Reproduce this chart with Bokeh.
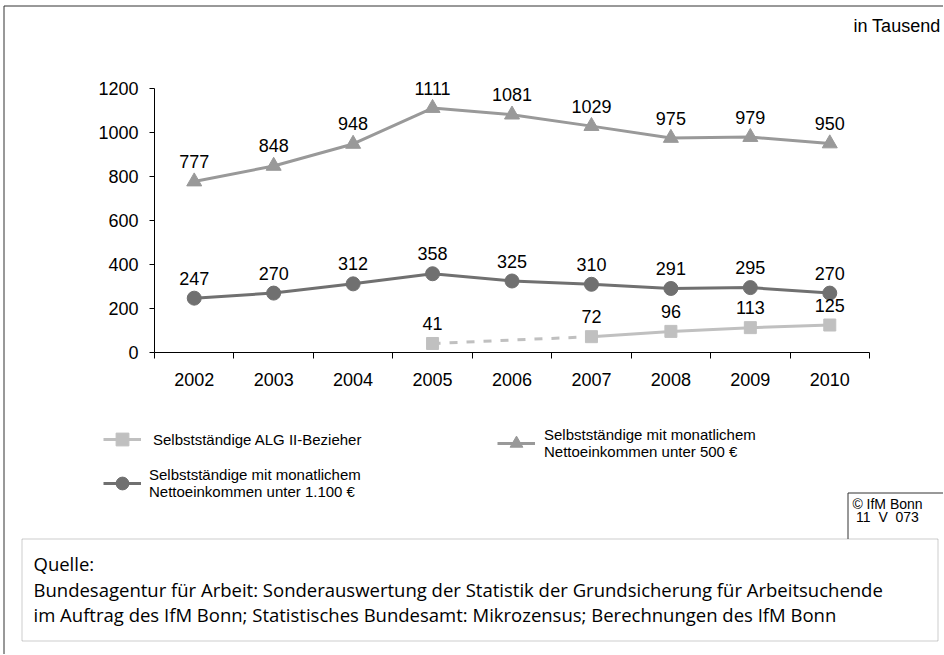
from bokeh.plotting import figure
from bokeh.models import (Range1d, FixedTicker, LinearAxis, Legend, LegendItem,
                          Label, LabelSet, BoxAnnotation, ColumnDataSource)
from bokeh.core.properties import value
from bokeh.embed import file_html
from bokeh.resources import INLINE

# ---------------- data ----------------
years = ["2002", "2003", "2004", "2005", "2006", "2007", "2008", "2009", "2010"]
under500 = [777, 848, 948, 1111, 1081, 1029, 975, 979, 950]
under1100 = [247, 270, 312, 358, 325, 310, 291, 295, 270]
alg_years = ["2005", "2007", "2008", "2009", "2010"]
alg_values = [41, 72, 96, 113, 125]
y_ticks = [0, 200, 400, 600, 800, 1000, 1200]

name_alg = "Selbstständige ALG II-Bezieher"
name_500 = "Selbstständige mit monatlichem\nNettoeinkommen unter 500 €"
name_1100 = "Selbstständige mit monatlichem\nNettoeinkommen unter 1.100 €"
unit_text = "in Tausend"
copyright_lines = ["© IfM Bonn", "11\u00a0 V\u00a0 073"]
source_lines = [
    "Quelle:",
    "Bundesagentur für Arbeit: Sonderauswertung der Statistik der Grundsicherung für Arbeitsuchende",
    "im Auftrag des IfM Bonn; Statistisches Bundesamt: Mikrozensus; Berechnungen des IfM Bonn",
]

# ---------------- styles / layout ----------------
C500 = "#999999"
C1100 = "#707070"
CALG = "#c0c0c0"
FONT = "Liberation Sans"
SRC_FONT = "Open Sans"

W, H = 943, 654                  # canvas size (canvas origin = picture origin)
AX_LEFT, AX_RIGHT = 154, 869     # px of the category axis ends
AX_TOP, AX_BOTTOM = 88, 352      # px of 1200 and 0
NCAT = len(years)
YMAX = y_ticks[-1]

def px_x(px):
    return (px - AX_LEFT) / ((AX_RIGHT - AX_LEFT) / NCAT)

def px_y(py):
    return (AX_BOTTOM - py) / ((AX_BOTTOM - AX_TOP) / YMAX)

xpos = {y: i + 0.5 for i, y in enumerate(years)}

p = figure(width=W, height=H,
           x_range=Range1d(px_x(0), px_x(W)),
           y_range=Range1d(px_y(H), px_y(0)),
           x_axis_type=None, y_axis_type=None,
           output_backend="svg", toolbar_location=None,
           min_border_left=0, min_border_right=0,
           min_border_top=0, min_border_bottom=0)
p.outline_line_color = None
p.background_fill_color = "white"
p.border_fill_color = "white"

# x axis: labels at category centres, ticks at category boundaries
xaxis = LinearAxis(
    fixed_location=0, bounds=(0, NCAT),
    ticker=FixedTicker(ticks=[xpos[y] for y in years],
                       minor_ticks=list(range(NCAT + 1))),
    major_label_overrides={xpos[y]: y for y in years},
    major_tick_in=0, major_tick_out=0,
    minor_tick_in=0, minor_tick_out=6,
    minor_tick_line_color="black",
    axis_line_color="black",
    major_label_standoff=14,
    major_label_text_font=FONT, major_label_text_font_size="18px",
    major_label_text_color="black",
)
p.add_layout(xaxis, "below")

yaxis = LinearAxis(
    fixed_location=0, bounds=(0, YMAX),
    ticker=FixedTicker(ticks=y_ticks),
    major_tick_in=0, major_tick_out=5,
    minor_tick_line_color=None,
    major_tick_line_color="black",
    axis_line_color="black",
    major_label_standoff=11,
    major_label_text_font=FONT, major_label_text_font_size="18px",
    major_label_text_color="black",
)
p.add_layout(yaxis, "left")

# ---------------- frame lines (open on the right / bottom like the original) ----------------
frame_src = ColumnDataSource(dict(
    x0=[px_x(3.5), px_x(3.5), px_x(847.5), px_x(847.5)],
    y0=[px_y(5.5), px_y(5.5), px_y(492.5), px_y(492.5)],
    x1=[px_x(3.5), px_x(W + 5), px_x(847.5), px_x(W + 5)],
    y1=[px_y(H + 5), px_y(5.5), px_y(538.5), px_y(492.5)],
))
p.segment("x0", "y0", "x1", "y1", source=frame_src, line_color="#333333", line_width=1)
# source box
p.add_layout(BoxAnnotation(left=px_x(21.5), right=px_x(937.5), top=px_y(538.5), bottom=px_y(640.5),
                           fill_alpha=0, line_color="#555555", line_width=1))

# ---------------- series ----------------
src500 = ColumnDataSource(dict(x=[xpos[y] for y in years], y=under500,
                               t=[str(v) for v in under500]))
src1100 = ColumnDataSource(dict(x=[xpos[y] for y in years], y=under1100,
                                t=[str(v) for v in under1100]))
srcalg = ColumnDataSource(dict(x=[xpos[y] for y in alg_years], y=alg_values,
                               t=[str(v) for v in alg_values]))

l500 = p.line("x", "y", source=src500, line_color=C500, line_width=3)
m500 = p.scatter("x", "y", source=src500, marker="triangle", size=15,
                 fill_color=C500, line_color=C500)

l1100 = p.line("x", "y", source=src1100, line_color=C1100, line_width=3)
m1100 = p.scatter("x", "y", source=src1100, marker="circle", size=14,
                  fill_color=C1100, line_color=C1100)

# ALG II: dashed where the year 2006 is missing, solid afterwards
dash_src = ColumnDataSource(dict(x=[xpos[y] for y in alg_years[:2]], y=alg_values[:2]))
solid_src = ColumnDataSource(dict(x=[xpos[y] for y in alg_years[1:]], y=alg_values[1:]))
p.line("x", "y", source=dash_src, line_color=CALG, line_width=3, line_dash="8 9")
lalg = p.line("x", "y", source=solid_src, line_color=CALG, line_width=3)
malg = p.scatter("x", "y", source=srcalg, marker="square", size=12,
                 fill_color=CALG, line_color=CALG)

for s in (src500, src1100, srcalg):
    p.add_layout(LabelSet(x="x", y="y", text="t", source=s, y_offset=20,
                          text_align="center", text_baseline="middle",
                          text_font=value(FONT), text_font_size=value("18px"),
                          text_color="black"))

# ---------------- legend (location = bottom-left corner, px) ----------------
def add_legend(label, renderers, left_px, bottom_px, standoff):
    lg = Legend(items=[LegendItem(label=label, renderers=renderers)],
                location=(left_px, H - bottom_px), orientation="vertical",
                background_fill_alpha=0, border_line_color=None,
                padding=0, margin=0, spacing=0,
                glyph_width=38, glyph_height=32, label_standoff=standoff,
                label_text_font=FONT, label_text_font_size="15px",
                label_text_line_height=1.25, label_text_color="black")
    p.add_layout(lg)

add_legend(name_alg, [lalg, malg], 103, 455, 12)
add_legend(name_500, [l500, m500], 497, 460, 9)
add_legend(name_1100, [l1100, m1100], 103, 500, 8)

# ---------------- texts ----------------
p.add_layout(Label(x=px_x(940), y=px_y(25), text=unit_text, text_align="right",
                   text_baseline="middle", text_font=FONT, text_font_size="18px",
                   text_color="black"))
for i, t in enumerate(copyright_lines):
    p.add_layout(Label(x=px_x(887), y=px_y(503 + 13 * i), text=t, text_align="center",
                       text_baseline="middle", text_font=FONT, text_font_size="14px",
                       text_color="black"))
for i, t in enumerate(source_lines):
    p.add_layout(Label(x=px_x(33), y=px_y(563 + 25.5 * i), text=t, text_align="left",
                       text_baseline="middle", text_font=SRC_FONT, text_font_size="18.5px",
                       text_color="black"))

open("out.html", "w").write(file_html(p, INLINE))
